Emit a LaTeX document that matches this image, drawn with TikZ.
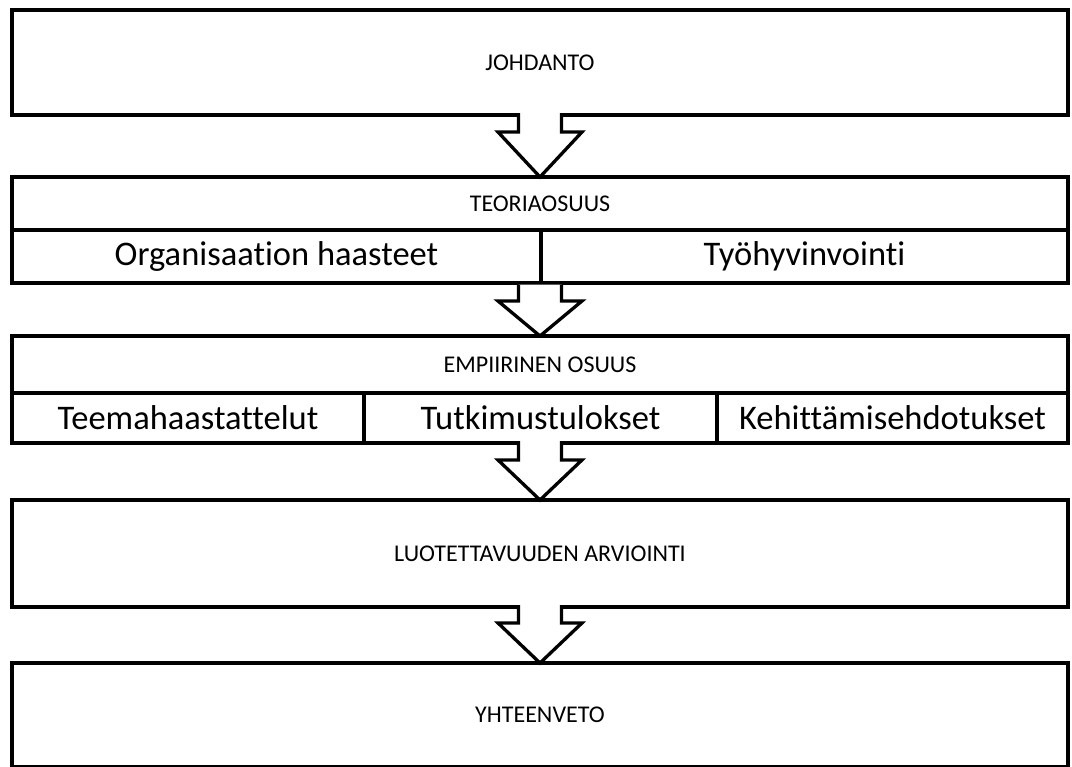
\documentclass[tikz,border=0pt]{standalone}
\usepackage{fontspec}
\setmainfont{Carlito}[Ligatures=NoCommon]
\usetikzlibrary{calc}

% block arrow from the bottom of one row to the top of the next box;
% #3 is how far below the upper row the arrow head widens,
% #4 where the shaft starts (negative: it hides the row's bottom line)
\newcommand{\flowarrow}[4]{%
  \draw[blockarrow]
    ($(#1.south -| #2.north)+(-21.5,#4)$) -- ($(#1.south -| #2.north)+(-21.5,#3)$)
    -- ($(#1.south -| #2.north)+(-42,#3)$) -- (#2.north)
    -- ($(#1.south -| #2.north)+(42,#3)$) -- ($(#1.south -| #2.north)+(21.5,#3)$)
    -- ($(#1.south -| #2.north)+(21.5,#4)$);}

\begin{document}
\begin{tikzpicture}[x=1pt,y=-1pt,
  frame/.style={draw=black,line width=3.3pt,fill=white,rectangle,
    inner sep=0pt,outer sep=0pt,anchor=north west},
  smalltext/.style={font=\fontsize{24}{28}\selectfont},
  bigtext/.style={font=\fontsize{34.5}{40}\selectfont},
  blockarrow/.style={draw=black,fill=white,line width=3.3pt,line join=miter}]

\useasboundingbox (0,0) rectangle (1072,767);

% main stages
\node[frame,smalltext,minimum width=1056pt,minimum height=105pt] (johd) at (12,10) {JOHDANTO};

\node[frame,smalltext,minimum width=1056pt,minimum height=53pt] (teor) at (12,177) {TEORIAOSUUS};
\node[frame,bigtext,minimum width=529pt,minimum height=53pt] (org) at (12,230) {Organisaation haasteet};
\node[frame,bigtext,minimum width=527pt,minimum height=53pt] (tyo) at (541,230) {Työhyvinvointi};

\node[frame,smalltext,minimum width=1056pt,minimum height=57pt] (emp) at (12,336) {EMPIIRINEN OSUUS};
\node[frame,bigtext,minimum width=352pt,minimum height=50pt] (teema) at (12,393) {Teemahaastattelut};
\node[frame,bigtext,minimum width=353pt,minimum height=50pt] (tutk) at (364,393) {Tutkimustulokset};
\node[frame,bigtext,minimum width=351pt,minimum height=50pt] (keh) at (717,393) {Kehittämisehdotukset};

\node[frame,smalltext,minimum width=1056pt,minimum height=107pt] (luot) at (12,500) {LUOTETTAVUUDEN ARVIOINTI};

\node[frame,smalltext,minimum width=1056pt,minimum height=104pt] (yht) at (12,663) {YHTEENVETO};

% arrows between the stages
\flowarrow{johd}{teor}{17}{-1.8}
\flowarrow{org}{emp}{18}{1.7}
\flowarrow{teema}{luot}{17}{-1.8}
\flowarrow{luot}{yht}{16}{-1.8}
\end{tikzpicture}
\end{document}
